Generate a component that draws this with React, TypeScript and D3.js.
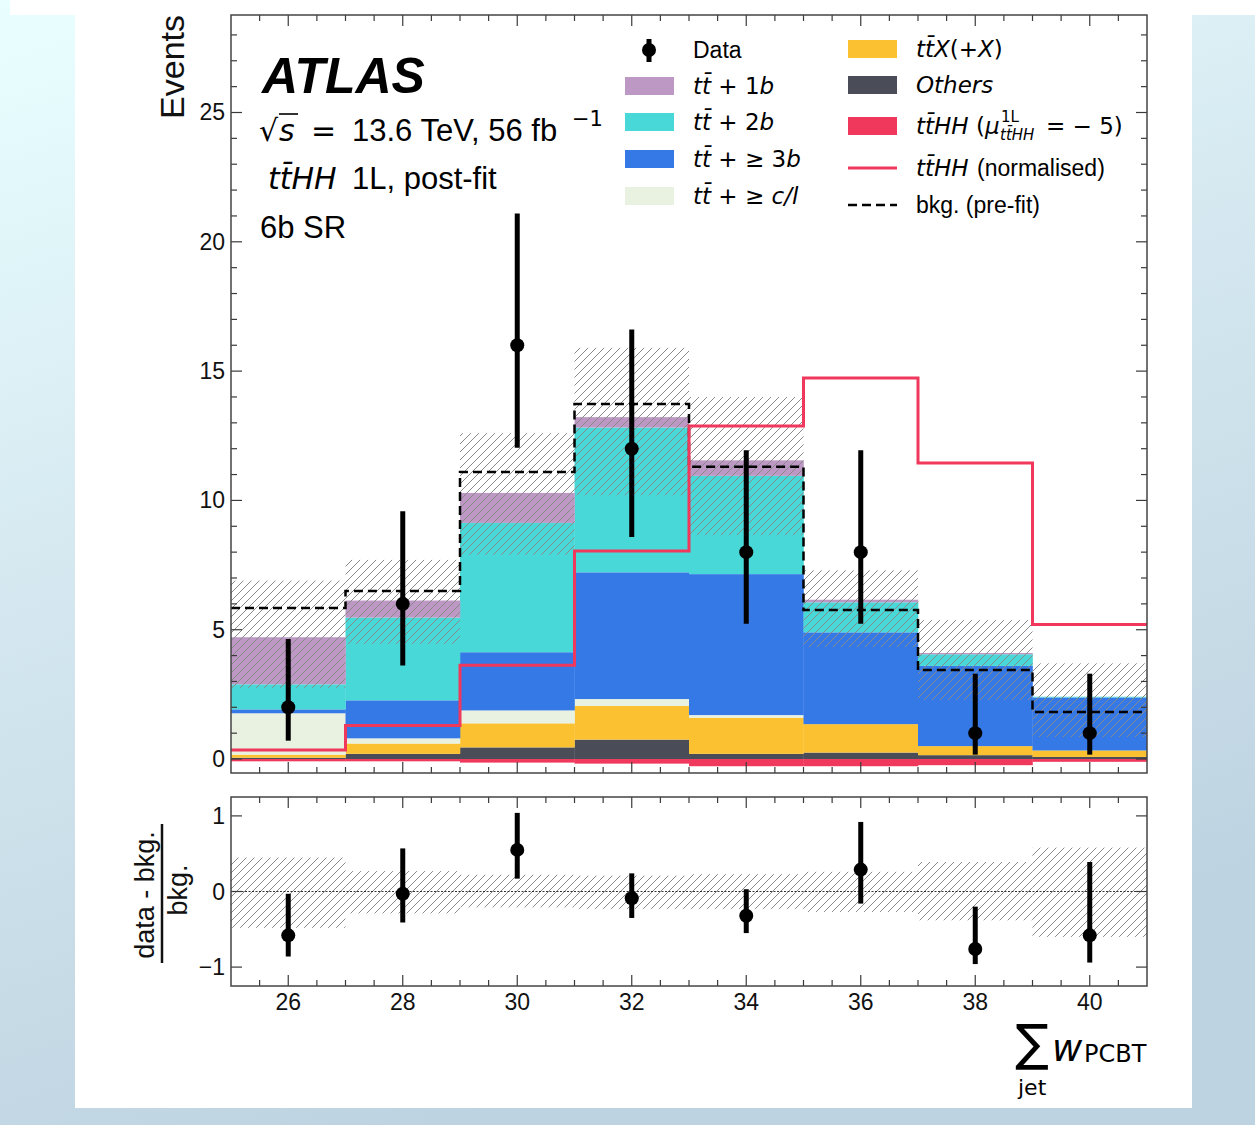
import React from 'react';
import * as d3 from 'd3';

// ---------------- data ----------------
const binEdges = [25, 27, 29, 31, 33, 35, 37, 39, 41];
const binCenters = [26, 28, 30, 32, 34, 36, 38, 40];
const xTickLabels = ['26', '28', '30', '32', '34', '36', '38', '40'];
const yTickValues = [0, 5, 10, 15, 20, 25];
const ratioTickValues = [-1, 0, 1];

const others = [0.05, 0.2, 0.45, 0.75, 0.2, 0.25, 0.15, 0.08];
const ttX = [0.12, 0.4, 0.93, 1.3, 1.4, 1.1, 0.35, 0.25];
const ttCL = [1.6, 0.2, 0.5, 0.27, 0.1, 0.0, 0.0, 0.0];
const tt3b = [0.15, 1.47, 2.25, 4.9, 5.45, 3.55, 3.1, 2.05];
const tt2b = [0.97, 3.2, 5.0, 5.6, 3.8, 1.16, 0.45, 0.03];
const tt1b = [1.82, 0.66, 1.16, 0.4, 0.6, 0.1, 0.05, 0.0];
const ttHHneg = [-0.03, -0.03, -0.08, -0.12, -0.22, -0.22, -0.18, -0.05];
const ttHHnorm = [0.35, 1.3, 3.63, 8.04, 12.88, 14.73, 11.45, 5.2];
const prefit = [5.84, 6.5, 11.1, 13.73, 11.3, 5.76, 3.44, 1.82];
const uncHi = [6.9, 7.7, 12.6, 15.9, 14.0, 7.3, 5.37, 3.7];
const uncLo = [2.75, 4.45, 7.9, 10.2, 8.66, 4.33, 2.28, 0.85];
const dataVals = [2, 6, 16, 12, 8, 8, 1, 1];
const dataErrHi = [4.64, 9.58, 21.09, 16.61, 11.94, 11.94, 3.3, 3.3];
const dataErrLo = [0.71, 3.62, 12.04, 8.59, 5.23, 5.23, 0.17, 0.17];

const ratioVals = [-0.58, -0.03, 0.55, -0.09, -0.32, 0.29, -0.76, -0.58];
const ratioErrHi = [-0.03, 0.57, 1.04, 0.24, 0.03, 0.92, -0.2, 0.39];
const ratioErrLo = [-0.86, -0.41, 0.17, -0.35, -0.55, -0.16, -0.96, -0.94];
const ratioUncHi = [0.45, 0.27, 0.22, 0.21, 0.23, 0.26, 0.39, 0.58];
const ratioUncLo = [-0.48, -0.29, -0.21, -0.23, -0.23, -0.27, -0.38, -0.6];

const stackKeys = ['others', 'ttX', 'ttCL', 'tt3b', 'tt2b', 'tt1b'];
const stackColors: Record<string, string> = {
  others: '#4a4d57',
  ttX: '#fbc131',
  ttCL: '#e9f1e1',
  tt3b: '#3579e6',
  tt2b: '#49d8d8',
  tt1b: '#bd98c5',
};
const RED = '#f0385c';

const SANS = '"Liberation Sans", Arial, Helvetica, sans-serif';
const MATH = '"DejaVu Sans", sans-serif';

const TBAR = 't\u0304';

export default function App() {
  const x = d3.scaleLinear().domain([25, 41]).range([231, 1147]);
  const y = d3.scaleLinear().domain([-0.54, 28.77]).range([773, 15]);
  const yr = d3.scaleLinear().domain([-1.25, 1.25]).range([986, 797]);

  const table = binCenters.map((c, i) => ({
    others: others[i], ttX: ttX[i], ttCL: ttCL[i], tt3b: tt3b[i], tt2b: tt2b[i], tt1b: tt1b[i],
  }));
  const stacked = d3.stack<any>().keys(stackKeys)(table);

  const stepPath = (vals: number[], sc: d3.ScaleLinear<number, number>) => {
    const pts: [number, number][] = binEdges.slice(0, -1).map((e, i) => [e, vals[i]]);
    pts.push([binEdges[binEdges.length - 1], vals[vals.length - 1]]);
    return d3.line<[number, number]>().x(d => x(d[0])).y(d => sc(d[1])).curve(d3.curveStepAfter)(pts) || '';
  };

  const xMajor = binCenters;
  const xMinor = d3.range(25.5, 41, 0.5).filter(v => !xMajor.includes(v));
  const yMinor = d3.range(1, 29, 1).filter(v => v % 5 !== 0);

  const tickColor = '#3a3a3a';

  const xTicks = (top: number, bottom: number) => (
    <g stroke={tickColor} strokeWidth={1.2}>
      {xMajor.map(v => (
        <g key={'M' + v}>
          <line x1={x(v)} x2={x(v)} y1={bottom} y2={bottom - 11} />
          <line x1={x(v)} x2={x(v)} y1={top} y2={top + 11} />
        </g>
      ))}
      {xMinor.map(v => (
        <g key={'m' + v}>
          <line x1={x(v)} x2={x(v)} y1={bottom} y2={bottom - 6} />
          <line x1={x(v)} x2={x(v)} y1={top} y2={top + 6} />
        </g>
      ))}
    </g>
  );

  const legendRow = (sx: number, cy: number, color: string) => (
    <rect x={sx} y={cy - 9} width={49} height={18} fill={color} />
  );

  return (
    <div style={{ position: 'absolute', left: 0, top: 0, width: 1255, height: 1125 }}>
      <svg width={1255} height={1125} style={{ display: 'block' }}>
        <defs>
          <linearGradient id="bg" x1="0" y1="0" x2="0.35" y2="1">
            <stop offset="0" stopColor="#e9ffff" />
            <stop offset="0.45" stopColor="#d6e9f1" />
            <stop offset="1" stopColor="#bed3e1" />
          </linearGradient>
          <pattern id="hatch" patternUnits="userSpaceOnUse" width={8} height={8}>
            <path d="M-2,2 l4,-4 M0,8 l8,-8 M6,10 l4,-4" stroke="#8a8a8a" strokeWidth={1} />
          </pattern>
          <clipPath id="mainClip"><rect x={231} y={15} width={916} height={758} /></clipPath>
          <clipPath id="ratioClip"><rect x={231} y={797} width={916} height={189} /></clipPath>
        </defs>

        {/* background */}
        <rect x={0} y={0} width={1255} height={1125} fill="url(#bg)" />
        <rect x={10} y={0} width={1245} height={15} fill="#ffffff" />
        <rect x={75} y={15} width={1117} height={1093} fill="#ffffff" />

        {/* ---------- main panel ---------- */}
        <g clipPath="url(#mainClip)">
          {stacked.map(layer => (
            <g key={layer.key} fill={stackColors[layer.key]}>
              {layer.map((d, i) => (
                <rect key={i} x={x(binEdges[i])} width={x(binEdges[i + 1]) - x(binEdges[i]) + 0.3}
                  y={y(d[1])} height={Math.max(0, y(d[0]) - y(d[1]))} />
              ))}
            </g>
          ))}
          {ttHHneg.map((v, i) => (
            <rect key={'neg' + i} x={x(binEdges[i])} width={x(binEdges[i + 1]) - x(binEdges[i]) + 0.3}
              y={y(0)} height={y(v) - y(0) + 1.5} fill={RED} />
          ))}
          {uncHi.map((v, i) => (
            <rect key={'unc' + i} x={x(binEdges[i])} width={x(binEdges[i + 1]) - x(binEdges[i])}
              y={y(v)} height={y(uncLo[i]) - y(v)} fill="url(#hatch)" />
          ))}
          <path d={stepPath(prefit, y)} fill="none" stroke="#000" strokeWidth={2.5} strokeDasharray="9,5" />
          <path d={stepPath(ttHHnorm, y)} fill="none" stroke={RED} strokeWidth={3} />
          {dataVals.map((v, i) => (
            <g key={'d' + i}>
              <line x1={x(binCenters[i])} x2={x(binCenters[i])} y1={y(dataErrHi[i])} y2={y(dataErrLo[i])} stroke="#000" strokeWidth={5} />
              <circle cx={x(binCenters[i])} cy={y(v)} r={7} fill="#000" />
            </g>
          ))}
        </g>
        {/* main frame & ticks */}
        {xTicks(15, 773)}
        <g stroke={tickColor} strokeWidth={1.2}>
          {yTickValues.map(v => (
            <g key={'yt' + v}>
              <line x1={231} x2={242} y1={y(v)} y2={y(v)} />
              <line x1={1147} x2={1136} y1={y(v)} y2={y(v)} />
            </g>
          ))}
          {yMinor.map(v => (
            <g key={'ym' + v}>
              <line x1={231} x2={237} y1={y(v)} y2={y(v)} />
              <line x1={1147} x2={1141} y1={y(v)} y2={y(v)} />
            </g>
          ))}
        </g>
        <rect x={231} y={15} width={916} height={758} fill="none" stroke="#444" strokeWidth={1.5} />
        <g fontFamily={SANS} fontSize={23} fill="#111" textAnchor="end">
          {yTickValues.map(v => (
            <text key={'yl' + v} x={225} y={y(v) + 8}>{v}</text>
          ))}
        </g>
        <text transform="translate(184,15) rotate(-90)" textAnchor="end" fontFamily={SANS} fontSize={34} fill="#111">Events</text>

        {/* ATLAS labels */}
        <text x={262} y={93} fontFamily={SANS} fontSize={50} fontWeight="bold" fontStyle="italic" fill="#000">ATLAS</text>
        <g fill="#000">
          <text y={141} fontSize={30}>
            <tspan x={259} fontFamily={MATH}>√</tspan>
            <tspan x={279} fontFamily={MATH} fontStyle="italic">s</tspan>
            <tspan x={311} fontFamily={MATH}>=</tspan>
            <tspan x={352} fontFamily={SANS} fontSize={31}>13.6 TeV, 56 fb</tspan>
            <tspan x={572} fontFamily={MATH} fontSize={21} dy={-15}>−1</tspan>
          </text>
          <line x1={279} x2={298} y1={114} y2={114} stroke="#000" strokeWidth={1.6} />
          <text y={189} fontSize={30}>
            <tspan x={268} fontFamily={MATH} fontStyle="italic">{'t' + TBAR + 'HH'}</tspan>
            <tspan x={352} fontFamily={SANS} fontSize={31}>1L, post-fit</tspan>
          </text>
          <text x={260} y={238} fontFamily={SANS} fontSize={31}>6b SR</text>
        </g>

        {/* legend column 1 */}
        <g fill="#000">
          <line x1={649} x2={649} y1={39} y2={62} stroke="#000" strokeWidth={5} />
          <circle cx={649} cy={50} r={7} fill="#000" />
          <text x={693} y={58} fontFamily={SANS} fontSize={23}>Data</text>

          {legendRow(625, 86, stackColors.tt1b)}
          <text x={693} y={94} fontFamily={MATH} fontSize={23}>
            <tspan fontStyle="italic">{'t' + TBAR}</tspan><tspan> + 1</tspan><tspan fontStyle="italic">b</tspan>
          </text>
          {legendRow(625, 122, stackColors.tt2b)}
          <text x={693} y={130} fontFamily={MATH} fontSize={23}>
            <tspan fontStyle="italic">{'t' + TBAR}</tspan><tspan> + 2</tspan><tspan fontStyle="italic">b</tspan>
          </text>
          {legendRow(625, 159, stackColors.tt3b)}
          <text x={693} y={167} fontFamily={MATH} fontSize={23}>
            <tspan fontStyle="italic">{'t' + TBAR}</tspan><tspan> +  ≥ 3</tspan><tspan fontStyle="italic">b</tspan>
          </text>
          {legendRow(625, 196, stackColors.ttCL)}
          <text x={693} y={204} fontFamily={MATH} fontSize={23}>
            <tspan fontStyle="italic">{'t' + TBAR}</tspan><tspan> +  ≥ </tspan><tspan fontStyle="italic">c/l</tspan>
          </text>
        </g>

        {/* legend column 2 */}
        <g fill="#000">
          {legendRow(848, 49, stackColors.ttX)}
          <text x={916} y={57} fontFamily={MATH} fontSize={23}>
            <tspan fontStyle="italic">{'t' + TBAR + 'X'}</tspan><tspan>(+</tspan><tspan fontStyle="italic">X</tspan><tspan>)</tspan>
          </text>
          {legendRow(848, 85, stackColors.others)}
          <text x={916} y={93} fontFamily={MATH} fontSize={23} fontStyle="italic">Others</text>
          {legendRow(848, 126, RED)}
          <text x={916} y={134} fontFamily={MATH} fontSize={23}>
            <tspan fontStyle="italic">{'t' + TBAR + 'HH'}</tspan><tspan> (</tspan><tspan fontStyle="italic">μ</tspan>
          </text>
          <text x={1001} y={122} fontFamily={MATH} fontSize={15}>1L</text>
          <text x={1000} y={140} fontFamily={MATH} fontSize={15} fontStyle="italic">{'t' + TBAR + 'HH'}</text>
          <text x={1046} y={134} fontFamily={MATH} fontSize={23}>= − 5)</text>
          <line x1={848} x2={897} y1={168} y2={168} stroke={RED} strokeWidth={3} />
          <text x={916} y={176} fontFamily={MATH} fontSize={23} fontStyle="italic">{'t' + TBAR + 'HH'}</text>
          <text x={977} y={176} fontFamily={SANS} fontSize={23}>(normalised)</text>
          <line x1={848} x2={897} y1={205} y2={205} stroke="#000" strokeWidth={2.5} strokeDasharray="9,5" />
          <text x={916} y={213} fontFamily={SANS} fontSize={23}>bkg. (pre-fit)</text>
        </g>

        {/* ---------- ratio panel ---------- */}
        <g clipPath="url(#ratioClip)">
          {ratioUncHi.map((v, i) => (
            <rect key={'ru' + i} x={x(binEdges[i])} width={x(binEdges[i + 1]) - x(binEdges[i])}
              y={yr(v)} height={yr(ratioUncLo[i]) - yr(v)} fill="url(#hatch)" />
          ))}
          <line x1={231} x2={1147} y1={yr(0)} y2={yr(0)} stroke="#000" strokeWidth={0.8} strokeDasharray="2,1.5" />
          {ratioVals.map((v, i) => (
            <g key={'r' + i}>
              <line x1={x(binCenters[i])} x2={x(binCenters[i])} y1={yr(ratioErrHi[i])} y2={yr(ratioErrLo[i])} stroke="#000" strokeWidth={5} />
              <circle cx={x(binCenters[i])} cy={yr(v)} r={7} fill="#000" />
            </g>
          ))}
        </g>
        {xTicks(797, 986)}
        <g stroke={tickColor} strokeWidth={1.2}>
          {ratioTickValues.map(v => (
            <g key={'rt' + v}>
              <line x1={231} x2={242} y1={yr(v)} y2={yr(v)} />
              <line x1={1147} x2={1136} y1={yr(v)} y2={yr(v)} />
            </g>
          ))}
        </g>
        <rect x={231} y={797} width={916} height={189} fill="none" stroke="#444" strokeWidth={1.5} />
        <g fontFamily={SANS} fontSize={23} fill="#111" textAnchor="end">
          {ratioTickValues.map(v => (
            <text key={'rl' + v} x={225} y={yr(v) + 8}>{v < 0 ? '−' + Math.abs(v) : String(v)}</text>
          ))}
        </g>
        <g fontFamily={SANS} fontSize={23} fill="#111" textAnchor="middle">
          {binCenters.map((v, i) => (
            <text key={'xl' + v} x={x(v)} y={1010}>{xTickLabels[i]}</text>
          ))}
        </g>
        {/* ratio y label */}
        <text transform="translate(154,895) rotate(-90)" textAnchor="middle" fontFamily={SANS} fontSize={27} fill="#111">data - bkg.</text>
        <line x1={162} x2={162} y1={824} y2={963} stroke="#111" strokeWidth={2.5} />
        <text transform="translate(187,890) rotate(-90)" textAnchor="middle" fontFamily={SANS} fontSize={27} fill="#111">bkg.</text>

        {/* x label */}
        <g fill="#000">
          <text x={1015} y={1060} fontFamily={MATH} fontSize={50}>∑</text>
          <text x={1018} y={1095} fontFamily={MATH} fontSize={22}>jet</text>
          <text x={1052} y={1061} fontFamily={MATH} fontSize={37} fontStyle="italic">w</text>
          <text x={1084} y={1062} fontFamily={MATH} fontSize={24}>PCBT</text>
        </g>
      </svg>
    </div>
  );
}
